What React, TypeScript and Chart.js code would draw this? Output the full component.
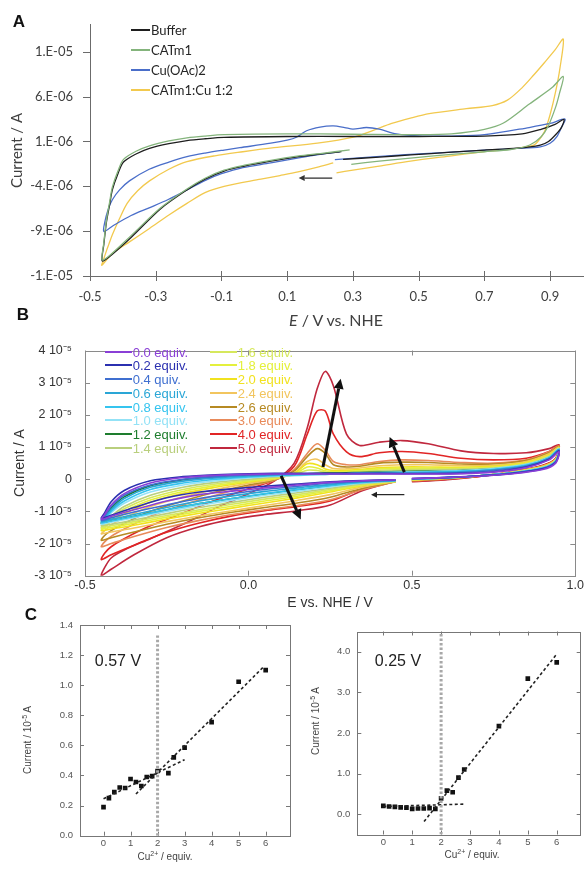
import React, { useEffect, useRef } from 'react';
import { Chart, registerables } from 'chart.js';

Chart.register(...registerables);

// ---------------- Panel A (current in µA) ----------------
const A_X_TICKS = [-0.5, -0.3, -0.1, 0.1, 0.3, 0.5, 0.7, 0.9];
const A_Y_TICKS = [-14, -9, -4, 1, 6, 11];
const A_NAMES = ['Buffer', 'CATm1', 'Cu(OAc)2', 'CATm1:Cu 1:2'];
const A_COLORS = ['#1e1e1e', '#84b47c', '#4a6ec9', '#f2c94e'];

const A_BUFFER_X = [0.265, 0.2, 0.135, 0.05, -0.03, -0.092, -0.15, -0.205, -0.285, -0.375, -0.443, -0.463,
  -0.458, -0.45, -0.44, -0.432, -0.415, -0.398, -0.36, -0.319, -0.26, -0.205, -0.15, -0.092, 0.1, 0.3, 0.5, 0.7, 0.815, 0.872, 0.915, 0.942,
  0.935, 0.918, 0.895, 0.87, 0.8, 0.7, 0.6, 0.476, 0.38, 0.27];
const A_BUFFER_Y = [-0.13, -0.42, -0.7, -1.2, -1.75, -2.3, -3.2, -4.4, -6.5, -9.7, -11.9, -12.3,
  -10.5, -8.0, -6.0, -4.4, -2.6, -1.3, -0.4, 0.23, 0.75, 1.1, 1.3, 1.45, 1.55, 1.55, 1.55, 1.6, 1.85, 2.35, 2.9, 3.45,
  2.6, 1.8, 1.0, 0.6, 0.25, 0.04, -0.2, -0.5, -0.75, -1.0];

const A_CATM1_X = [0.29, 0.2, 0.135, 0.05, -0.03, -0.092, -0.15, -0.205, -0.285, -0.375, -0.443, -0.463,
  -0.458, -0.45, -0.44, -0.432, -0.415, -0.398, -0.36, -0.319, -0.26, -0.205, -0.15, -0.092, 0.1, 0.3, 0.5, 0.6, 0.7, 0.758, 0.838, 0.906, 0.94,
  0.928, 0.917, 0.894, 0.872, 0.838, 0.78, 0.7, 0.6, 0.475, 0.38, 0.295];
const A_CATM1_Y = [0.05, -0.35, -0.62, -1.1, -1.65, -2.2, -3.1, -4.3, -6.4, -9.5, -11.8, -12.2,
  -10.3, -7.8, -5.7, -4.1, -2.3, -1.0, -0.1, 0.5, 1.05, 1.4, 1.6, 1.75, 1.85, 1.8, 1.75, 1.85, 2.35, 3.05, 5.2, 7.0, 8.25,
  6.3, 4.85, 2.7, 1.5, 0.6, 0.1, -0.15, -0.45, -0.85, -1.2, -1.55];

const A_CU_X = [0.26, 0.2, 0.135, 0.05, -0.035, -0.1, -0.149, -0.205, -0.262, -0.32, -0.375, -0.43, -0.458,
  -0.455, -0.445, -0.432, -0.41, -0.38, -0.32, -0.26, -0.205, -0.15, -0.092, -0.044, 0.05, 0.1, 0.128, 0.159, 0.2, 0.24, 0.275, 0.3, 0.341, 0.38, 0.432, 0.512, 0.6, 0.7, 0.836, 0.9, 0.945,
  0.935, 0.92, 0.9, 0.87, 0.8, 0.7, 0.6, 0.46, 0.35, 0.245];
const A_CU_Y = [-0.15, -0.45, -0.84, -1.4, -1.91, -2.6, -3.34, -4.4, -5.47, -6.4, -7.26, -8.4, -9.04,
  -8.0, -6.6, -5.5, -4.4, -3.4, -2.1, -1.3, -0.7, -0.3, 0.04, 0.3, 0.8, 1.15, 1.47, 2.19, 2.6, 2.73, 2.55, 2.37, 2.55, 2.37, 1.83, 1.6, 1.6, 1.75, 2.55, 3.0, 3.5,
  2.6, 1.5, 0.8, 0.4, 0.22, 0.02, -0.2, -0.48, -0.75, -1.02];

const A_MIX_X = [0.24, 0.19, 0.133, 0.078, 0.02, -0.092, -0.15, -0.205, -0.26, -0.319, -0.38, -0.432, -0.464,
  -0.46, -0.45, -0.443, -0.432, -0.41, -0.387, -0.355, -0.319, -0.26, -0.205, -0.12, -0.035, 0.06, 0.192, 0.305, 0.36, 0.418, 0.475, 0.532, 0.645, 0.724, 0.77, 0.815, 0.85, 0.883, 0.915, 0.94,
  0.93, 0.917, 0.9, 0.883, 0.865, 0.85, 0.78, 0.7, 0.6, 0.475, 0.38, 0.3, 0.25];
const A_MIX_Y = [-1.4, -1.9, -2.4, -2.8, -3.2, -4.0, -4.7, -5.9, -7.2, -8.7, -10.2, -11.5, -12.8,
  -12.3, -11.2, -10.5, -9.4, -7.6, -5.9, -4.5, -3.4, -2.1, -1.25, -0.6, -0.15, 0.3, 0.8, 1.5, 2.2, 3.0, 3.6, 4.1, 4.65, 5.0, 5.6, 7.0, 8.4, 9.8, 11.2, 12.4,
  9.2, 6.6, 4.0, 2.1, 1.1, 0.6, 0.15, -0.13, -0.6, -1.2, -1.75, -2.2, -2.5];

const A_ARROW_X = [0.237, 0.135];
const A_ARROW_Y = [-3.09, -3.09];

// ---------------- Panel B (current in 1e-5 A) ----------------
const B_X_TICKS = [-0.5, 0, 0.5, 1.0];
const B_Y_TICKS = [-3, -2, -1, 0, 1, 2, 3, 4];
const B_LABELS = ['0.0 equiv.', '0.2 equiv.', '0.4 quiv.', '0.6 equiv.', '0.8 equiv.', '1.0 equiv.', '1.2 equiv.', '1.4 equiv.',
  '1.6 equiv.', '1.8 equiv.', '2.0 equiv.', '2.4 equiv.', '2.6 equiv.', '3.0 equiv.', '4.0 equiv.', '5.0 equiv.'];
const B_COLORS = ['#8a3fd6', '#2b30b0', '#3f6fd0', '#2aa6d6', '#35c4ef', '#93e2f6', '#1e7d2e', '#b9cf7d',
  '#d6e85c', '#e4f03c', '#f1e21f', '#f2c55e', '#b68a23', '#e88a5a', '#e12525', '#c0283e'];

// potential path of each cycle: cathodic sweep, anodic sweep, return
const B_X = [
  0.45, 0.35, 0.25, 0.15, 0.05, -0.05, -0.15, -0.25, -0.35, -0.42, -0.45,
  -0.44, -0.42, -0.38, -0.3, -0.2, -0.1, 0.0, 0.08, 0.14, 0.18, 0.21, 0.235, 0.26, 0.3, 0.34, 0.4, 0.47, 0.55, 0.65, 0.75, 0.85, 0.92, 0.95,
  0.94, 0.9, 0.8, 0.7, 0.6, 0.5];

const B_Y_00 = [-0.02, -0.05, -0.1, -0.18, -0.27, -0.37, -0.48, -0.68, -0.95, -1.15, -1.25,
  -1.1, -0.8, -0.45, -0.12, 0.05, 0.12, 0.15, 0.16, 0.16, 0.16, 0.16, 0.16, 0.16, 0.16, 0.16, 0.16, 0.16, 0.16, 0.17, 0.22, 0.36, 0.6, 0.85,
  0.5, 0.3, 0.16, 0.09, 0.05, 0.02];
const B_Y_02 = [-0.02, -0.04, -0.08, -0.15, -0.22, -0.3, -0.4, -0.58, -0.88, -1.12, -1.22,
  -1.05, -0.7, -0.35, -0.05, 0.08, 0.14, 0.17, 0.18, 0.18, 0.18, 0.18, 0.18, 0.18, 0.18, 0.18, 0.18, 0.17, 0.17, 0.18, 0.23, 0.38, 0.62, 0.88,
  0.52, 0.32, 0.17, 0.1, 0.05, 0.02];
const B_Y_04 = [-0.03, -0.06, -0.12, -0.22, -0.32, -0.45, -0.6, -0.8, -1.02, -1.2, -1.28,
  -1.15, -0.85, -0.5, -0.18, 0.0, 0.08, 0.13, 0.15, 0.16, 0.17, 0.17, 0.17, 0.17, 0.17, 0.17, 0.18, 0.18, 0.19, 0.21, 0.27, 0.4, 0.64, 0.9,
  0.54, 0.33, 0.18, 0.1, 0.05, 0.01];
const B_Y_06 = [-0.04, -0.08, -0.16, -0.27, -0.38, -0.52, -0.68, -0.88, -1.1, -1.25, -1.32,
  -1.2, -0.95, -0.6, -0.25, -0.06, 0.04, 0.1, 0.13, 0.15, 0.16, 0.16, 0.17, 0.17, 0.17, 0.18, 0.19, 0.2, 0.21, 0.23, 0.29, 0.42, 0.66, 0.92,
  0.55, 0.34, 0.18, 0.1, 0.05, 0.01];
const B_Y_08 = [-0.05, -0.1, -0.2, -0.32, -0.45, -0.6, -0.76, -0.95, -1.16, -1.3, -1.36,
  -1.25, -1.0, -0.68, -0.32, -0.12, 0.0, 0.07, 0.11, 0.13, 0.14, 0.15, 0.15, 0.16, 0.17, 0.18, 0.2, 0.21, 0.22, 0.25, 0.31, 0.44, 0.67, 0.93,
  0.56, 0.35, 0.19, 0.1, 0.04, 0.0];
const B_Y_10 = [-0.05, -0.12, -0.24, -0.37, -0.5, -0.65, -0.82, -1.0, -1.2, -1.34, -1.4,
  -1.3, -1.05, -0.75, -0.4, -0.18, -0.05, 0.04, 0.09, 0.11, 0.13, 0.14, 0.15, 0.16, 0.17, 0.19, 0.21, 0.22, 0.24, 0.27, 0.33, 0.46, 0.69, 0.95,
  0.57, 0.36, 0.19, 0.1, 0.04, 0.0];
const B_Y_12 = [-0.04, -0.1, -0.2, -0.33, -0.46, -0.6, -0.76, -0.95, -1.15, -1.3, -1.38,
  -1.2, -0.9, -0.55, -0.2, -0.02, 0.08, 0.13, 0.15, 0.16, 0.17, 0.18, 0.19, 0.19, 0.2, 0.21, 0.22, 0.24, 0.25, 0.27, 0.32, 0.45, 0.68, 0.93,
  0.56, 0.35, 0.19, 0.1, 0.04, 0.0];
const B_Y_14 = [-0.06, -0.14, -0.28, -0.42, -0.56, -0.72, -0.88, -1.07, -1.27, -1.4, -1.45,
  -1.35, -1.15, -0.85, -0.5, -0.25, -0.1, 0.0, 0.07, 0.12, 0.15, 0.17, 0.18, 0.18, 0.19, 0.21, 0.25, 0.27, 0.28, 0.3, 0.34, 0.47, 0.7, 0.95,
  0.58, 0.37, 0.2, 0.1, 0.04, -0.01];
const B_Y_16 = [-0.06, -0.16, -0.32, -0.48, -0.62, -0.78, -0.95, -1.13, -1.32, -1.45, -1.5,
  -1.4, -1.2, -0.92, -0.58, -0.32, -0.15, -0.03, 0.05, 0.14, 0.28, 0.27, 0.22, 0.2, 0.21, 0.24, 0.28, 0.3, 0.31, 0.32, 0.36, 0.48, 0.72, 0.96,
  0.59, 0.38, 0.2, 0.1, 0.03, -0.01];
const B_Y_18 = [-0.07, -0.18, -0.36, -0.53, -0.68, -0.84, -1.0, -1.18, -1.37, -1.5, -1.55,
  -1.45, -1.25, -1.0, -0.65, -0.38, -0.2, -0.06, 0.03, 0.15, 0.38, 0.35, 0.26, 0.23, 0.24, 0.27, 0.32, 0.34, 0.34, 0.34, 0.38, 0.5, 0.74, 0.97,
  0.6, 0.38, 0.2, 0.1, 0.03, -0.02];
const B_Y_20 = [-0.07, -0.2, -0.4, -0.58, -0.74, -0.9, -1.06, -1.24, -1.43, -1.55, -1.6,
  -1.5, -1.32, -1.08, -0.72, -0.44, -0.25, -0.09, 0.02, 0.18, 0.48, 0.45, 0.32, 0.27, 0.27, 0.3, 0.36, 0.38, 0.38, 0.37, 0.4, 0.52, 0.76, 0.98,
  0.6, 0.39, 0.21, 0.1, 0.03, -0.02];
const B_Y_24 = [-0.08, -0.24, -0.48, -0.66, -0.82, -0.98, -1.14, -1.32, -1.52, -1.64, -1.7,
  -1.6, -1.42, -1.2, -0.85, -0.55, -0.32, -0.13, 0.0, 0.2, 0.55, 0.62, 0.45, 0.33, 0.32, 0.35, 0.42, 0.45, 0.45, 0.42, 0.43, 0.55, 0.79, 1.0,
  0.61, 0.4, 0.21, 0.1, 0.02, -0.03];
const B_Y_26 = [-0.08, -0.28, -0.56, -0.74, -0.88, -1.03, -1.2, -1.4, -1.64, -1.82, -1.9,
  -1.75, -1.6, -1.38, -1.0, -0.68, -0.4, -0.18, -0.02, 0.25, 0.7, 0.95, 0.8, 0.45, 0.38, 0.4, 0.5, 0.53, 0.52, 0.47, 0.47, 0.58, 0.82, 1.02,
  0.62, 0.4, 0.21, 0.09, 0.01, -0.04];
const B_Y_30 = [-0.08, -0.32, -0.64, -0.82, -0.95, -1.1, -1.28, -1.5, -1.78, -2.0, -2.1,
  -1.95, -1.78, -1.55, -1.15, -0.8, -0.5, -0.22, -0.03, 0.3, 0.8, 1.1, 0.9, 0.55, 0.45, 0.45, 0.55, 0.6, 0.58, 0.52, 0.5, 0.6, 0.85, 1.04,
  0.63, 0.41, 0.21, 0.09, 0.0, -0.05];
const B_Y_40 = [-0.06, -0.3, -0.68, -0.85, -0.98, -1.14, -1.36, -1.65, -2.05, -2.35, -2.5,
  -2.3, -2.1, -1.85, -1.45, -1.05, -0.65, -0.3, -0.03, 0.4, 1.4, 2.12, 2.12, 1.4, 0.85, 0.7, 0.82, 0.86, 0.8, 0.65, 0.6, 0.65, 0.86, 1.05,
  0.64, 0.42, 0.21, 0.08, -0.01, -0.06];
const B_Y_50 = [-0.06, -0.35, -0.8, -0.98, -1.1, -1.25, -1.48, -1.82, -2.35, -2.8, -3.0,
  -2.75, -2.45, -2.2, -1.85, -1.4, -0.9, -0.45, -0.05, 0.5, 1.6, 2.8, 3.35, 2.9, 1.4, 1.05, 1.15, 1.2, 1.1, 0.88, 0.8, 0.82, 0.95, 1.07,
  0.65, 0.43, 0.22, 0.08, -0.02, -0.08];
const B_SERIES = [B_Y_00, B_Y_02, B_Y_04, B_Y_06, B_Y_08, B_Y_10, B_Y_12, B_Y_14, B_Y_16, B_Y_18, B_Y_20, B_Y_24, B_Y_26, B_Y_30, B_Y_40, B_Y_50];

const B_ARROW_PEAK_X = [0.228, 0.282];
const B_ARROW_PEAK_Y = [0.38, 3.12];
const B_ARROW_WAVE_X = [0.477, 0.432];
const B_ARROW_WAVE_Y = [0.22, 1.31];
const B_ARROW_RED_X = [0.1, 0.16];
const B_ARROW_RED_Y = [0.1, -1.25];
const B_ARROW_SCAN_X = [0.477, 0.375];
const B_ARROW_SCAN_Y = [-0.48, -0.48];

// ---------------- Panel C ----------------
const C_X_TICKS = [0, 1, 2, 3, 4, 5, 6];
const C57_Y_TICKS = [0, 0.2, 0.4, 0.6, 0.8, 1.0, 1.2, 1.4];
const C25_Y_TICKS = [0, 1, 2, 3, 4];

const C57_X = [0, 0.2, 0.4, 0.6, 0.8, 1.0, 1.2, 1.4, 1.6, 1.8, 2.0, 2.4, 2.6, 3.0, 4.0, 5.0, 6.0];
const C57_Y = [0.19, 0.25, 0.29, 0.32, 0.317, 0.377, 0.357, 0.33, 0.39, 0.396, 0.43, 0.416, 0.52, 0.585, 0.755, 1.023, 1.10];
const C57_FIT1_X = [0, 3.0];
const C57_FIT1_Y = [0.245, 0.505];
const C57_FIT2_X = [1.2, 5.9];
const C57_FIT2_Y = [0.277, 1.118];
const C57_EQ_X = [2, 2];
const C57_EQ_Y = [0, 1.33];

const C25_X = [0, 0.2, 0.4, 0.6, 0.8, 1.0, 1.2, 1.4, 1.6, 1.8, 2.0, 2.2, 2.4, 2.6, 2.8, 4.0, 5.0, 6.0];
const C25_Y = [0.205, 0.19, 0.18, 0.17, 0.164, 0.13, 0.14, 0.14, 0.15, 0.13, 0.39, 0.58, 0.54, 0.9, 1.1, 2.17, 3.34, 3.74];
const C25_FIT1_X = [0, 2.85];
const C25_FIT1_Y = [0.19, 0.25];
const C25_FIT2_X = [1.41, 6.02];
const C25_FIT2_Y = [-0.18, 3.96];
const C25_EQ_X = [2, 2];
const C25_EQ_Y = [-0.5, 4.45];

// ---------------- helpers ----------------
const SANS = '"Liberation Sans", Arial, sans-serif';
const pts = (xs: number[], ys: number[]) =>
  xs.slice(0, Math.min(xs.length, ys.length)).map((x, i) => ({ x, y: ys[i] }));

function excelSci(v: number) {
  const s = v.toExponential(0);
  const [m, e] = s.split('e');
  const ei = parseInt(e, 10);
  return `${m}.E${ei < 0 ? '-' : '+'}${String(Math.abs(ei)).padStart(2, '0')}`;
}

function makeFrame(id: string, o: any) {
  return {
    id,
    beforeDatasetsDraw(chart: any) {
      const { ctx, chartArea: a } = chart;
      const xs = chart.scales.x, ys = chart.scales.y;
      ctx.save();
      ctx.strokeStyle = o.color;
      ctx.lineWidth = 1;
      if (o.box) {
        ctx.strokeRect(Math.round(a.left) + 0.5, Math.round(a.top) + 0.5, Math.round(a.right - a.left), Math.round(a.bottom - a.top));
      }
      ctx.beginPath();
      xs.ticks.forEach((t: any) => {
        const p = Math.round(xs.getPixelForValue(t.value)) + 0.5;
        ctx.moveTo(p, a.bottom - o.xIn);
        ctx.lineTo(p, a.bottom + o.xOut);
        if (o.mirror) { ctx.moveTo(p, a.top); ctx.lineTo(p, a.top + o.xIn); }
      });
      ys.ticks.forEach((t: any) => {
        const p = Math.round(ys.getPixelForValue(t.value)) + 0.5;
        ctx.moveTo(a.left - o.yOut, p);
        ctx.lineTo(a.left + o.yIn, p);
        if (o.mirror) { ctx.moveTo(a.right - o.yIn, p); ctx.lineTo(a.right, p); }
      });
      ctx.stroke();
      ctx.restore();
    },
  };
}

function makeArrows(id: string, items: any[]) {
  return {
    id,
    afterDatasetsDraw(chart: any) {
      const { ctx } = chart;
      const xs = chart.scales.x, ys = chart.scales.y;
      items.forEach((it) => {
        const x1 = xs.getPixelForValue(it.x[0]), y1 = ys.getPixelForValue(it.y[0]);
        const x2 = xs.getPixelForValue(it.x[1]), y2 = ys.getPixelForValue(it.y[1]);
        const ang = Math.atan2(y2 - y1, x2 - x1);
        const bx = x2 - it.head * Math.cos(ang), by = y2 - it.head * Math.sin(ang);
        ctx.save();
        ctx.strokeStyle = it.color;
        ctx.fillStyle = it.color;
        ctx.lineWidth = it.width;
        ctx.beginPath();
        ctx.moveTo(x1, y1);
        ctx.lineTo(bx, by);
        ctx.stroke();
        ctx.beginPath();
        ctx.moveTo(x2, y2);
        ctx.lineTo(bx + it.headW * Math.sin(ang), by - it.headW * Math.cos(ang));
        ctx.lineTo(bx - it.headW * Math.sin(ang), by + it.headW * Math.cos(ang));
        ctx.closePath();
        ctx.fill();
        ctx.restore();
      });
    },
  };
}

const fixedTicks = (vals: number[]) => (s: any) => { s.ticks = vals.map((v) => ({ value: v })); };

// ---------------- chart configs ----------------
function configA(): any {
  const series = [
    [A_BUFFER_X, A_BUFFER_Y], [A_CATM1_X, A_CATM1_Y], [A_CU_X, A_CU_Y], [A_MIX_X, A_MIX_Y],
  ];
  const order = [1, 0, 2, 3];
  return {
    type: 'scatter',
    data: {
      datasets: order.map((i) => ({
        label: A_NAMES[i],
        data: pts(series[i][0], series[i][1]),
        showLine: true, borderColor: A_COLORS[i], borderWidth: 1.3, pointRadius: 0, tension: 0.3, fill: false,
      })),
    },
    options: {
      responsive: false, animation: false, devicePixelRatio: 1,
      layout: { padding: { top: 15, right: 3, left: 0, bottom: 0 } },
      plugins: { legend: { display: false }, tooltip: { enabled: false } },
      scales: {
        x: {
          type: 'linear', min: -0.5, max: 1.0,
          afterFit: (s: any) => { s.height = 54; },
          afterBuildTicks: fixedTicks(A_X_TICKS),
          grid: { display: false, drawTicks: false },
          border: { display: true, color: '#6b6b6b', width: 1 },
          ticks: { autoSkip: false, maxRotation: 0, padding: 13, color: '#404040', font: { family: 'Lato', size: 13 }, callback: (v: any) => Number(v).toFixed(1) },
        },
        y: {
          type: 'linear', min: -14, max: 14,
          afterFit: (s: any) => { s.width = 90; },
          afterBuildTicks: fixedTicks(A_Y_TICKS),
          grid: { display: false, drawTicks: false },
          border: { display: true, color: '#6b6b6b', width: 1 },
          ticks: { autoSkip: false, padding: 17, color: '#404040', font: { family: 'Lato', size: 13 }, callback: (v: any) => excelSci(Number(v) * 1e-6) },
          title: { display: true, text: 'Current / A', color: '#404040', font: { family: 'Lato', size: 15 }, padding: { top: 8, bottom: 0 } },
        },
      },
    },
    plugins: [
      makeFrame('frameA', { color: '#6b6b6b', box: false, xIn: 5, xOut: 5, yIn: 0, yOut: 7, mirror: false }),
      makeArrows('arrowsA', [{ x: A_ARROW_X, y: A_ARROW_Y, color: '#333', width: 1.3, head: 6, headW: 3 }]),
    ],
  };
}

function configB(): any {
  return {
    type: 'scatter',
    data: {
      datasets: B_SERIES.map((ys, i) => ({
        label: B_LABELS[i],
        data: pts(B_X, ys),
        showLine: true, borderColor: B_COLORS[i], borderWidth: 1.6, pointRadius: 0, tension: 0.3, fill: false,
      })),
    },
    options: {
      responsive: false, animation: false, devicePixelRatio: 1,
      layout: { padding: { top: 10, right: 7.7, left: 0, bottom: 0 } },
      plugins: { legend: { display: false }, tooltip: { enabled: false } },
      scales: {
        x: {
          type: 'linear', min: -0.5, max: 1.0,
          afterFit: (s: any) => { s.height = 36.3; },
          afterBuildTicks: fixedTicks(B_X_TICKS),
          grid: { display: false, drawTicks: false },
          border: { display: false },
          ticks: { autoSkip: false, maxRotation: 0, padding: 2, color: '#333', font: { family: SANS, size: 12.5 }, callback: (v: any) => Number(v).toFixed(1) },
          title: { display: true, text: 'E vs. NHE / V', color: '#333', font: { family: SANS, size: 14 }, padding: { top: 0, bottom: 0.6 } },
        },
        y: {
          type: 'linear', min: -3, max: 4,
          afterFit: (s: any) => { s.width = 85; },
          afterBuildTicks: fixedTicks(B_Y_TICKS),
          grid: { display: false, drawTicks: false },
          border: { display: false },
          ticks: { autoSkip: false, padding: 13, color: '#333', font: { family: SANS, size: 12.5 }, callback: (v: any) => (Number(v) === 0 ? '0' : `${v} 10⁻⁵`) },
          title: { display: true, text: 'Current / A', color: '#333', font: { family: SANS, size: 14 }, padding: { top: 12, bottom: 0 } },
        },
      },
    },
    plugins: [
      makeFrame('frameB', { color: '#8a8a8a', box: true, xIn: 5, xOut: 0, yIn: 5, yOut: 0, mirror: true }),
      makeArrows('arrowsB', [
        { x: B_ARROW_PEAK_X, y: B_ARROW_PEAK_Y, color: '#111', width: 3, head: 10, headW: 5 },
        { x: B_ARROW_WAVE_X, y: B_ARROW_WAVE_Y, color: '#111', width: 3, head: 10, headW: 5 },
        { x: B_ARROW_RED_X, y: B_ARROW_RED_Y, color: '#111', width: 3, head: 10, headW: 5 },
        { x: B_ARROW_SCAN_X, y: B_ARROW_SCAN_Y, color: '#222', width: 1.2, head: 6, headW: 3 },
      ]),
    ],
  };
}

function configC(d: any): any {
  return {
    type: 'scatter',
    data: {
      datasets: [
        { data: pts(d.eqX, d.eqY), showLine: true, borderColor: '#a8a8a8', borderWidth: 3, borderDash: [2.5, 2], pointRadius: 0 },
        { data: pts(d.f1x, d.f1y), showLine: true, borderColor: '#222', borderWidth: 1.6, borderDash: [3, 2.5], pointRadius: 0 },
        { data: pts(d.f2x, d.f2y), showLine: true, borderColor: '#222', borderWidth: 1.6, borderDash: [3, 2.5], pointRadius: 0 },
        { data: pts(d.x, d.y), showLine: false, pointStyle: 'rect', pointRadius: 3.3, backgroundColor: '#111', borderWidth: 0 },
      ],
    },
    options: {
      responsive: false, animation: false, devicePixelRatio: 1,
      layout: { padding: { top: d.top, right: d.right, left: 0, bottom: 0 } },
      plugins: { legend: { display: false }, tooltip: { enabled: false } },
      scales: {
        x: {
          type: 'linear', min: d.xmin, max: d.xmax,
          afterFit: (s: any) => { s.height = d.xh; },
          afterBuildTicks: fixedTicks(C_X_TICKS),
          grid: { display: false, drawTicks: false },
          border: { display: false },
          ticks: { autoSkip: false, maxRotation: 0, padding: 2, color: '#555', font: { family: SANS, size: 9.5 }, callback: (v: any) => String(v) },
        },
        y: {
          type: 'linear', min: d.ymin, max: d.ymax,
          afterFit: (s: any) => { s.width = d.yw; },
          afterBuildTicks: fixedTicks(d.yt),
          grid: { display: false, drawTicks: false },
          border: { display: false },
          ticks: { autoSkip: false, padding: 7, color: '#555', font: { family: SANS, size: 9.5 }, callback: (v: any) => Number(v).toFixed(1) },
        },
      },
    },
    plugins: [makeFrame('frameC', { color: '#777', box: true, xIn: 4, xOut: 0, yIn: 4, yOut: 0, mirror: true })],
  };
}

const configC57 = () => configC({
  x: C57_X, y: C57_Y, f1x: C57_FIT1_X, f1y: C57_FIT1_Y, f2x: C57_FIT2_X, f2y: C57_FIT2_Y, eqX: C57_EQ_X, eqY: C57_EQ_Y,
  xmin: -0.87, xmax: 6.9, ymin: 0, ymax: 1.4, yt: C57_Y_TICKS, top: 13, right: 10, xh: 35.3, yw: 80,
});
const configC25 = () => configC({
  x: C25_X, y: C25_Y, f1x: C25_FIT1_X, f1y: C25_FIT1_Y, f2x: C25_FIT2_X, f2y: C25_FIT2_Y, eqX: C25_EQ_X, eqY: C25_EQ_Y,
  xmin: -0.9, xmax: 6.83, ymin: -0.5, ymax: 4.5, yt: C25_Y_TICKS, top: 19.5, right: 5.3, xh: 36.5, yw: 57.3,
});

// ---------------- components ----------------
function ChartCanvas({ left, top, width, height, make }: any) {
  const ref = useRef<HTMLCanvasElement>(null);
  useEffect(() => {
    const chart = new Chart(ref.current as HTMLCanvasElement, make());
    return () => chart.destroy();
  }, []);
  return <canvas ref={ref} width={width} height={height} style={{ position: 'absolute', left, top, width, height }} />;
}

function T({ x, y, children, style, anchor = 'center' }: any) {
  const tr = anchor === 'left' ? 'translate(0,-50%)' : 'translate(-50%,-50%)';
  return (
    <div style={{ position: 'absolute', left: x, top: y, transform: tr, lineHeight: 1, whiteSpace: 'nowrap', ...style }}>{children}</div>
  );
}

function Rot({ x, y, children, style }: any) {
  return (
    <div style={{ position: 'absolute', left: x, top: y, transform: 'translate(-50%,-50%) rotate(-90deg)', lineHeight: 1, whiteSpace: 'nowrap', ...style }}>{children}</div>
  );
}

export default function App() {
  const legA0 = 30, legAStep = 20;
  const legB0 = 351.7, legBStep = 13.7;
  return (
    <div style={{ position: 'absolute', left: 0, top: 0, width: 586, height: 871, background: '#fff', overflow: 'hidden', fontFamily: SANS }}>
      <ChartCanvas left={0} top={0} width={586} height={330} make={configA} />
      <ChartCanvas left={0} top={330} width={586} height={282} make={configB} />
      <ChartCanvas left={0} top={612} width={300} height={259} make={configC57} />
      <ChartCanvas left={300} top={612} width={286} height={259} make={configC25} />

      {/* panel letters */}
      <T x={19} y={21} style={{ fontSize: 17, fontWeight: 'bold', color: '#111' }}>A</T>
      <T x={23} y={314} style={{ fontSize: 17, fontWeight: 'bold', color: '#111' }}>B</T>
      <T x={31} y={614} style={{ fontSize: 17, fontWeight: 'bold', color: '#111' }}>C</T>

      {/* panel A legend and x title */}
      {A_NAMES.map((n, i) => (
        <React.Fragment key={n}>
          <div style={{ position: 'absolute', left: 131, top: legA0 + i * legAStep - 1, width: 19, height: 2, background: A_COLORS[i] }} />
          <T x={151} y={legA0 + i * legAStep} anchor="left" style={{ fontFamily: 'Lato', fontSize: 13, color: '#262626' }}>{n}</T>
        </React.Fragment>
      ))}
      <T x={336} y={320} style={{ fontFamily: 'Lato', fontSize: 16, color: '#404040' }}><i>E</i> / V vs. NHE</T>

      {/* panel B legend */}
      {B_LABELS.map((n, i) => {
        const col = i < 8 ? 0 : 1;
        const row = i % 8;
        const lx = col === 0 ? 105 : 210;
        const y = legB0 + row * legBStep;
        return (
          <React.Fragment key={n}>
            <div style={{ position: 'absolute', left: lx, top: Math.round(y) - 1, width: 27, height: 2, background: B_COLORS[i] }} />
            <T x={lx + 27.7} y={y} anchor="left" style={{ fontSize: 13, color: B_COLORS[i] }}>{n}</T>
          </React.Fragment>
        );
      })}

      {/* panel C labels */}
      <T x={118} y={661} style={{ fontSize: 16, color: '#222' }}>0.57 V</T>
      <T x={398} y={661} style={{ fontSize: 16, color: '#222' }}>0.25 V</T>
      <T x={165} y={857} style={{ fontSize: 10, color: '#444' }}>Cu<sup style={{ fontSize: 7, verticalAlign: 'super', lineHeight: 0 }}>2+</sup> / equiv.</T>
      <T x={472} y={855} style={{ fontSize: 10, color: '#444' }}>Cu<sup style={{ fontSize: 7, verticalAlign: 'super', lineHeight: 0 }}>2+</sup> / equiv.</T>
      <Rot x={28} y={740} style={{ fontSize: 10, color: '#444' }}>Current / 10<sup style={{ fontSize: 7, verticalAlign: 'super', lineHeight: 0 }}>-5</sup> A</Rot>
      <Rot x={316} y={721} style={{ fontSize: 10, color: '#444' }}>Current / 10<sup style={{ fontSize: 7, verticalAlign: 'super', lineHeight: 0 }}>-5</sup> A</Rot>
    </div>
  );
}
